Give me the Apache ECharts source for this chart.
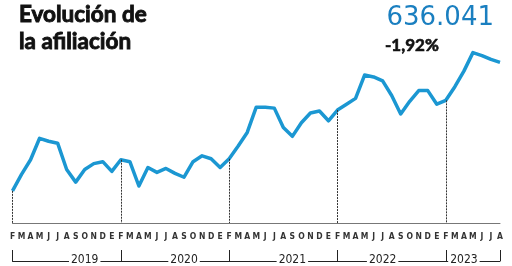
<!DOCTYPE html>
<html><head><meta charset="utf-8">
<script src="https://cdn.jsdelivr.net/npm/echarts@6/dist/echarts.min.js"></script>
<style>html,body{margin:0;padding:0;background:#fff}#c{width:512px;height:266px}</style>
</head><body><div id="c"></div>
<script>
// Month initials (Spanish), Feb 2019 .. Aug 2023
const months = [
  'F','M','A','M','J','J','A','S','O','N','D','E',
  'F','M','A','M','J','J','A','S','O','N','D','E',
  'F','M','A','M','J','J','A','S','O','N','D','E',
  'F','M','A','M','J','J','A','S','O','N','D','E',
  'F','M','A','M','J','J','A'
];
// Year labels placed under each year bracket
const yearLabels = months.map(() => '');
yearLabels[8] = '2019';
yearLabels[19] = '2020';
yearLabels[31] = '2021';
yearLabels[41] = '2022';
yearLabels[50] = '2023';
// Affiliates (thousands)
const afiliados = [
  504, 521, 536, 558, 555, 553, 526, 513, 526, 532, 534, 524,
  536, 534, 509, 528, 523, 527, 522, 518, 534, 540, 537, 528,
  537, 550, 564, 590, 590, 589, 569, 560, 574, 584, 586, 576,
  587, 593, 599, 623, 621, 617, 602, 583, 596, 607, 607, 593,
  597, 611, 627, 646, 643, 639, 636.041
];
const yMin = 471, yMax = 660;

const febLines = [];
months.forEach((m, i) => {
  if (m === 'F') febLines.push([{coord: [i, afiliados[i]]}, {coord: [i, yMin]}]);
});

const chart = echarts.init(document.getElementById('c'), null, {renderer: 'canvas'});
chart.setOption({
  animation: false,
  backgroundColor: '#fff',
  title: [
    {text: 'Evolución de\nla afiliación', left: 19, top: 1, padding: 0,
     textStyle: {fontSize: 22.5, fontWeight: 'bold', fontFamily: 'Lato', lineHeight: 27, color: '#111',
                 textBorderColor: '#111', textBorderWidth: 0.9}},
    {text: '636.041', right: 18, top: 5, padding: 0,
     textStyle: {fontSize: 26, fontWeight: 'normal', fontFamily: 'DejaVu Sans', color: '#1a7fc0'}},
    {text: '-1,92%', left: 385, top: 37, padding: 0,
     textStyle: {fontSize: 17, fontWeight: 'bold', fontFamily: 'Lato', color: '#111',
                 textBorderColor: '#111', textBorderWidth: 0.6}}
  ],
  grid: {left: 12.5, right: 12, top: 39, bottom: 38, containLabel: false},
  xAxis: [
    {type: 'category', data: months, boundaryGap: false,
     axisLine: {lineStyle: {color: '#777', width: 1}},
     axisTick: {show: false},
     axisLabel: {interval: 0, fontSize: 8.5, fontWeight: 'bold', margin: 9, color: '#333',
                 fontFamily: 'Liberation Sans Narrow, DejaVu Sans Condensed, sans-serif'}},
    {type: 'category', data: yearLabels, boundaryGap: false, position: 'bottom', offset: 38,
     axisLine: {lineStyle: {color: '#222', width: 1}},
     axisTick: {show: true, inside: true, length: 11, lineStyle: {color: '#222'},
                interval: (i) => months[i] === 'F' || i === months.length - 1},
     axisLabel: {interval: 0, fontSize: 12, margin: -7, color: '#222', backgroundColor: '#fff',
                 padding: [0, 2], fontFamily: 'Liberation Sans Narrow, DejaVu Sans Condensed, sans-serif'}}
  ],
  yAxis: {type: 'value', min: yMin, max: yMax, show: false, splitLine: {show: false}},
  series: [{
    type: 'line', data: afiliados, xAxisIndex: 0, symbol: 'none',
    lineStyle: {color: '#1b97d2', width: 3.5, join: 'round'},
    markLine: {
      silent: true, symbol: 'none', label: {show: false},
      lineStyle: {color: '#333', width: 1, type: [2, 1]},
      data: febLines
    },
    z: 3
  }]
});
</script></body></html>
